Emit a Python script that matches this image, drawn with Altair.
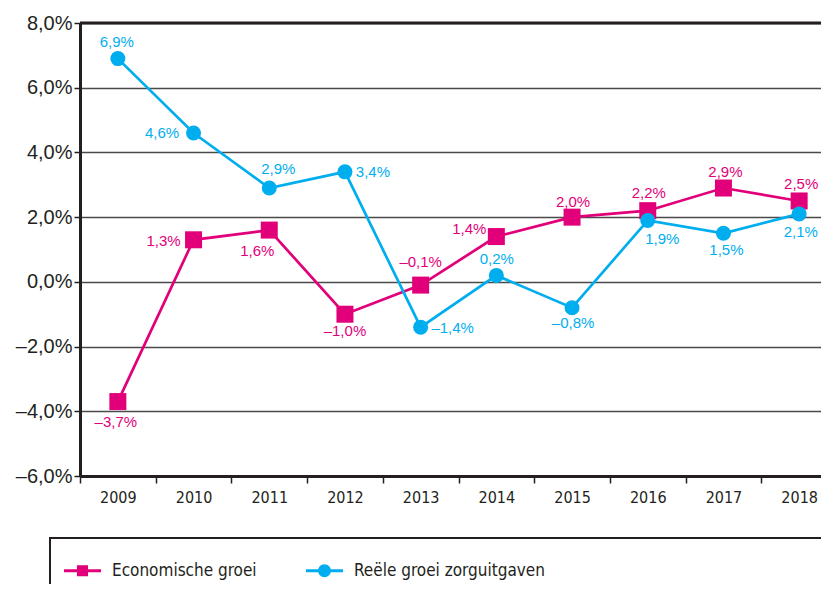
import altair as alt
import pandas as pd

# ---- data ----
YEARS = ["2009", "2010", "2011", "2012", "2013", "2014", "2015", "2016", "2017", "2018"]
ECO = [-3.7, 1.3, 1.6, -1.0, -0.1, 1.4, 2.0, 2.2, 2.9, 2.5]
ZORG = [6.9, 4.6, 2.9, 3.4, -1.4, 0.2, -0.8, 1.9, 1.5, 2.1]
SERIES = ["Economische groei", "Reële groei zorguitgaven"]
Y_TICKS = [-6, -4, -2, 0, 2, 4, 6, 8]

# ---- styling: label placement (pixel offsets from the marker centre) ----
ECO_DX = [-2, -30, -12, 0, 0, -27, 1, 1, 2, 2]
ECO_DY = [20.5, 1.5, 20.5, 16.5, -23.5, -8, -15.5, -17.5, -16, -17.3]
ZORG_DX = [-1, -31.5, 9, 28, 32, 0.4, 1, 14.5, 3, 1.7]
ZORG_DY = [-16.6, 0, -19, 0, 1.2, -16.4, 15, 19, 17, 18]

PINK = "#E2007A"
BLUE = "#00AEEF"
INK = "#231F20"

PLOT_W = 741          # visible plot width (page is cropped at the right)
RANGE_W = 757         # full band range (last band runs past the page edge)
PLOT_H = 453
PX_PER_UNIT = PLOT_H / 14.0
HALF_BAND = RANGE_W / len(YEARS) / 2
COND = "DejaVu Sans Condensed, Liberation Sans, sans-serif"

rows = []
for s, vals, dxs, dys in [(SERIES[0], ECO, ECO_DX, ECO_DY), (SERIES[1], ZORG, ZORG_DX, ZORG_DY)]:
    for y, v, dx, dy in zip(YEARS, vals, dxs, dys):
        rows.append({"year": y, "series": s, "value": v, "dx": dx + HALF_BAND, "dy": dy})
df = pd.DataFrame(rows)

fmt = "(datum.value < 0 ? '\u2013' : '') + replace(format(abs(datum.value), '.1f'), '.', ',') + '%'"

x_scale = alt.Scale(type="band", domain=YEARS, paddingInner=0, paddingOuter=0, range=[0, RANGE_W])
x_enc = alt.X(
    "year:N",
    scale=x_scale,
    axis=alt.Axis(
        title=None, labelAngle=0, tickBand="extent", tickSize=7, labelPadding=6,
        labelFont=COND, labelFontSize=16, grid=False,
    ),
)
y_scale = alt.Scale(domain=[-6, 8], nice=False, zero=False)
y_enc = alt.Y(
    "value:Q",
    scale=y_scale,
    axis=alt.Axis(
        title=None, values=Y_TICKS, labelExpr=fmt, tickSize=6, labelPadding=2,
        labelFont="Liberation Sans", labelFontSize=20, grid=True,
    ),
)

base = alt.Chart(df).transform_calculate(
    label=fmt,
    label_y="datum.value - datum.dy / " + str(PX_PER_UNIT),
)

def filt(s):
    return base.transform_filter(alt.datum.series == s)

top_rule = alt.Chart(pd.DataFrame({"v": [Y_TICKS[-1]]})).mark_rule(
    color=INK, strokeWidth=3
).encode(y=alt.Y("v:Q", scale=y_scale))

line_eco = filt(SERIES[0]).mark_line(color=PINK, strokeWidth=2.7).encode(x=x_enc, y=y_enc)
line_zorg = filt(SERIES[1]).mark_line(color=BLUE, strokeWidth=2.7).encode(x=x_enc, y=y_enc)
pts_eco = filt(SERIES[0]).mark_square(color=PINK, size=289, opacity=1).encode(x=x_enc, y=y_enc)
pts_zorg = filt(SERIES[1]).mark_circle(color=BLUE, size=225, opacity=1).encode(x=x_enc, y=y_enc)

def labels(s, c):
    return filt(s).mark_text(
        color=c, font="Liberation Sans", fontSize=15, align="center", baseline="middle"
    ).encode(
        x=x_enc,
        y=alt.Y("label_y:Q", scale=y_scale),
        text="label:N",
        xOffset=alt.XOffset("dx:Q", scale=None),
    )

# legend (symbol = line with marker); the box runs past the page edge as in the reference
SQ_PATH = "M-1,-0.08L1,-0.08L1,0.08L-1,0.08Z M-0.3,-0.3L0.3,-0.3L0.3,0.3L-0.3,0.3Z"
CI_PATH = "M-1,-0.08L1,-0.08L1,0.08L-1,0.08Z M-0.35,0A0.35,0.35 0 1,1 0.35,0A0.35,0.35 0 1,1 -0.35,0Z"
BLANK = "\u2800" * 60
leg = alt.Legend(
    orient="none", legendX=-30, legendY=515, direction="horizontal", columns=2,
    title=None, symbolSize=1369, symbolStrokeWidth=0, labelFont=COND,
    labelFontSize=17, labelColor=INK, labelOffset=11, columnPadding=49, padding=14,
    strokeColor=INK, labelLimit=2000,
    labelExpr="datum.index == 1 || indexof(datum.label, 'zorg') >= 0 ? datum.label + '" + BLANK + "' : datum.label",
)
legend_layer = alt.Chart(pd.DataFrame({"series": SERIES})).transform_filter("false").mark_point(
    filled=True, opacity=1
).encode(
    color=alt.Color("series:N", scale=alt.Scale(domain=SERIES, range=[PINK, BLUE]), legend=leg),
    shape=alt.Shape("series:N", scale=alt.Scale(domain=SERIES, range=[SQ_PATH, CI_PATH]), legend=leg),
)

chart = alt.layer(
    top_rule, line_eco, line_zorg, pts_eco, pts_zorg,
    labels(SERIES[0], PINK), labels(SERIES[1], BLUE), legend_layer,
).properties(
    width=PLOT_W, height=PLOT_H,
    padding={"left": 72, "top": 15, "right": 0, "bottom": 108},
    autosize=alt.AutoSizeParams(type="none"),
).configure_view(
    strokeWidth=0
).configure_axis(
    domainColor=INK, domainWidth=3, tickColor=INK, tickWidth=1.5,
    gridColor="#4A4A4A", gridWidth=1.5, labelColor=INK,
).configure_legend(
    strokeWidth=2
)

chart.save("out.html", embed_options={"renderer": "svg", "actions": False})
